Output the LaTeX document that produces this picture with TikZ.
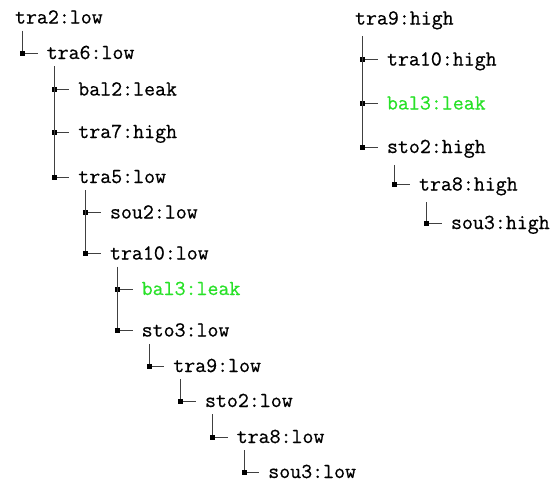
\documentclass[tikz,border=0pt]{standalone}
\usepackage{fontspec}
\newfontfamily\treefont[FakeBold=0.6]{Latin Modern Mono}
\definecolor{leakgreen}{RGB}{40,225,40}
\tikzset{
  lbl/.style={anchor=base west, inner sep=0pt, outer sep=0pt, font=\fontsize{21.3}{25}\selectfont\treefont},
  leak/.style={lbl, text=leakgreen},
  conn/.style={draw=black!75, line width=0.9pt},
  sq/.style={fill=black, inner sep=0pt, minimum size=5pt, draw=none},
}
\newcommand{\treeedge}[2]{%
  \coordinate (#1-#2-s) at ([shift={(7.5,7)}]#1.south west);
  \coordinate (#1-#2-e) at ([shift={(-9,-6)}]#2.base west);
  \draw[conn] (#1-#2-s) |- (#1-#2-e);
  \node[sq] at (#1-#2-s |- #1-#2-e) {};
}
\begin{document}
\begin{tikzpicture}[x=1pt,y=-1pt]
\useasboundingbox (0,0) rectangle (558,482);
% left tree
\node[lbl] (a0) at (15,23.5) {tra2:low};
\node[lbl] (a1) at (46.7,59) {tra6:low};
\node[lbl] (a2) at (78.3,95.5) {bal2:leak};
\node[lbl] (a3) at (78.3,138) {tra7:high};
\node[lbl] (a4) at (78.3,183) {tra5:low};
\node[lbl] (a5) at (110,218.5) {sou2:low};
\node[lbl] (a6) at (110,259.5) {tra10:low};
\node[leak] (a7) at (141.7,295) {bal3:leak};
\node[lbl] (a8) at (141.7,336.5) {sto3:low};
\node[lbl] (a9) at (173.3,372) {tra9:low};
\node[lbl] (a10) at (205,407) {sto2:low};
\node[lbl] (a11) at (236.7,443) {tra8:low};
\node[lbl] (a12) at (268.3,478) {sou3:low};
\treeedge{a0}{a1}
\treeedge{a1}{a2}
\treeedge{a1}{a3}
\treeedge{a1}{a4}
\treeedge{a4}{a5}
\treeedge{a4}{a6}
\treeedge{a6}{a7}
\treeedge{a6}{a8}
\treeedge{a8}{a9}
\treeedge{a9}{a10}
\treeedge{a10}{a11}
\treeedge{a11}{a12}
% right tree
\node[lbl] (b0) at (355,24.5) {tra9:high};
\node[lbl] (b1) at (387,65.5) {tra10:high};
\node[leak] (b2) at (387,109.5) {bal3:leak};
\node[lbl] (b3) at (387,153) {sto2:high};
\node[lbl] (b4) at (419,190.5) {tra8:high};
\node[lbl] (b5) at (451,229) {sou3:high};
\treeedge{b0}{b1}
\treeedge{b0}{b2}
\treeedge{b0}{b3}
\treeedge{b3}{b4}
\treeedge{b4}{b5}
\end{tikzpicture}
\end{document}
